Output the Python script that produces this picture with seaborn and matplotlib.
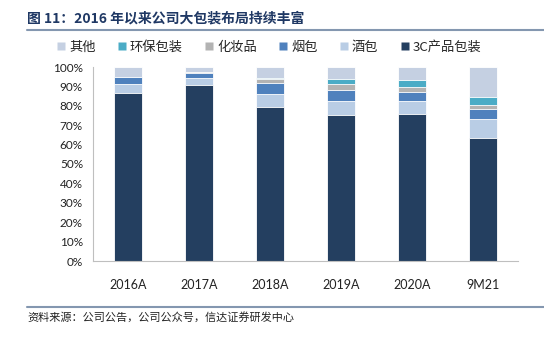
import matplotlib
matplotlib.use("Agg")
import matplotlib.pyplot as plt
import seaborn as sns
import numpy as np
import pandas as pd
from matplotlib.lines import Line2D
from matplotlib.ticker import PercentFormatter

sns.set_style("white")
plt.rcParams['font.family'] = ['Lato', 'Noto Sans CJK SC', 'DejaVu Sans']

categories = ["2016A", "2017A", "2018A", "2019A", "2020A", "9M21"]
c3 = [86.5, 90.5, 79.6, 75.3, 75.8, 63.5]
jiubao = [4.7, 4.0, 6.7, 7.1, 6.6, 9.7]
yanbao = [3.4, 2.2, 5.4, 5.7, 4.5, 5.2]
huazhuang = [0.0, 0.9, 2.3, 2.9, 2.9, 2.0]
huanbao = [0.0, 0.0, 0.3, 2.8, 3.6, 4.2]
qita = [5.4, 2.4, 5.7, 6.2, 6.6, 15.4]

series_names = ["3C产品包装", "酒包", "烟包", "化妆品", "环保包装", "其他"]
series_vals = [c3, jiubao, yanbao, huazhuang, huanbao, qita]
colors = ["#243F60", "#B9CDE5", "#4F81BD", "#B3B3B3", "#4BACC6", "#C5D0E2"]

W, H = 544, 337
fig = plt.figure(figsize=(W / 100, H / 100), dpi=100)
ax = fig.add_axes([92.7 / W, (H - 261) / H, (518.3 - 92.7) / W, 194 / H])

cum = np.cumsum(np.array(series_vals), axis=0)
# draw from top of stack down so lower segments overlay
for i in range(len(series_names) - 1, -1, -1):
    df = pd.DataFrame({"cat": categories, "val": cum[i]})
    sns.barplot(data=df, x="cat", y="val", color=colors[i], width=0.4,
                edgecolor="white", linewidth=0.6, ax=ax, saturation=1)

ax.set_xlim(-0.5, 5.5)
ax.set_ylim(0, 100)
ax.set_yticks(np.arange(0, 101, 10))
ax.yaxis.set_major_formatter(PercentFormatter(100, decimals=0))
ax.set_xlabel("")
ax.set_ylabel("")
ax.set_xticks(range(6))
ax.set_xticklabels(categories)
ax.set_xticks(np.arange(-0.5, 6, 1), minor=True)
ax.tick_params(axis="x", which="major", length=0, pad=13, labelsize=9, colors="#222222")
ax.tick_params(axis="x", which="minor", length=4, color="#BFBFBF", width=0.8, direction="out")
ax.tick_params(axis="y", length=4, width=0.8, direction="out", labelsize=8.5,
               labelcolor="#222222", color="#BFBFBF", pad=3)
for s in ["top", "right"]:
    ax.spines[s].set_visible(False)
for s in ["left", "bottom"]:
    ax.spines[s].set_color("#BFBFBF")
    ax.spines[s].set_linewidth(0.8)

# legend
leg_order = ["其他", "环保包装", "化妆品", "烟包", "酒包", "3C产品包装"]
handles = [Line2D([0], [0], marker="s", linestyle="", markersize=6,
                  markerfacecolor=colors[series_names.index(n)], markeredgecolor="none")
           for n in leg_order]
fig.legend(handles, leg_order, loc="center", bbox_to_anchor=(268 / W, 1 - 47 / H), ncol=6,
           frameon=False, handletextpad=0.1, columnspacing=1.5, handlelength=1.0,
           prop={"family": ["Noto Sans CJK SC"], "size": 9.5})

# title
fig.text(27 / W, 1 - 18 / H, "图 11：2016 年以来公司大包装布局持续丰富", ha="left", va="center",
         fontsize=10, fontweight="bold", color="#1F3864",
         family=["Noto Sans CJK SC", "DejaVu Sans"])
fig.add_artist(Line2D([27 / W, 1], [1 - 30 / H, 1 - 30 / H], color="#8497B0", linewidth=1.5,
                      transform=fig.transFigure))
fig.add_artist(Line2D([27 / W, 1], [1 - 307 / H, 1 - 307 / H], color="#8497B0", linewidth=1.5,
                      transform=fig.transFigure))
fig.text(27 / W, 1 - 317 / H, "资料来源：公司公告，公司公众号，信达证券研发中心", ha="left", va="center",
         fontsize=8, style="italic", color="#222222", family=["Noto Sans CJK SC", "DejaVu Sans"])

fig.savefig("out.png", dpi=100)
